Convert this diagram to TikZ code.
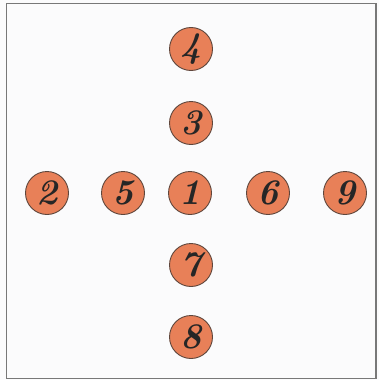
\documentclass[tikz,border=0pt]{standalone}
\definecolor{ball}{RGB}{232,128,88}
\definecolor{rim}{RGB}{95,70,60}
\definecolor{frame}{RGB}{120,120,120}
\definecolor{paper}{RGB}{251,251,252}
\begin{document}
\begin{tikzpicture}[x=1pt,y=-1pt,
  ball/.style={circle,draw=rim,line width=0.9pt,fill=ball,minimum size=43pt,inner sep=0pt,
    text=black!85,font=\fontsize{36}{36}\selectfont\bfseries\itshape}]
\useasboundingbox (0,0) rectangle (379,380);
\fill[paper] (0,0) rectangle (379,380);
\draw[frame,line width=1.4pt] (6.5,3.5) rectangle (376,378.5);
\node[ball] (n4) at (191,49) {4};
\node[ball] (n3) at (191,123) {3};
\node[ball] (n2) at (47,193) {2};
\node[ball] (n5) at (123,193) {5};
\node[ball] (n1) at (190,193) {1};
\node[ball] (n6) at (268,193) {6};
\node[ball] (n9) at (345,193) {9};
\node[ball] (n7) at (191,265) {7};
\node[ball] (n8) at (191,337) {8};
\end{tikzpicture}
\end{document}
